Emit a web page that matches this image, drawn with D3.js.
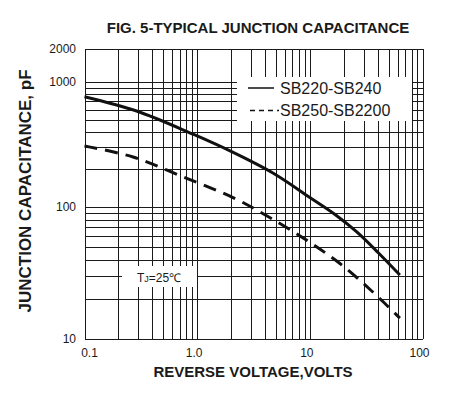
<!doctype html>
<html>
<head>
<meta charset="utf8">
<script src="https://d3js.org/d3.v7.min.js"></script>
<style>
  body { margin: 0; background: #fff; }
  text { font-family: "Liberation Sans", Arial, sans-serif; fill: #1a1a1a; }
  .grid line { stroke: #1a1a1a; stroke-width: 1; shape-rendering: crispEdges; }
</style>
</head>
<body>
<svg width="458" height="395"></svg>
<script>
// data: reverse voltage (V) vs capacitance (pF)
var seriesNames = ["SB220-SB240", "SB250-SB2200"];
var voltsA = [0.1, 0.29, 0.92, 2.02, 4.74, 10, 17.2, 26.1, 40.3, 63];
var capA   = [763, 586, 382, 277, 186, 119, 86.2, 64.7, 45.2, 30.5];
var voltsB = [0.1, 0.27, 0.75, 2.08, 4.25, 8.87, 18.5, 35.4, 63];
var capB   = [308, 251, 174, 119, 84.7, 57.7, 37.3, 23.1, 14.4];
var xTicks = [0.1, 1, 10, 100];
var xTickLabels = ["0.1", "1.0", "10", "100"];
var yTicks = [10, 100, 1000, 2000];

var svg = d3.select("svg");
var pLeft = 84.5, pRight = 422.5, pTop = 49, pBottom = 339;

var x = d3.scaleLog().domain([0.1, 100]).range([pLeft, pRight]);
// the printed grid is not quite uniform per decade, so map each decade separately
var y = d3.scaleLog().domain([10, 100, 1000, 2000]).range([pBottom, 207, 82, pTop]);

// grid
var xGrid = [], yGrid = [];
[0.1, 1, 10].forEach(function(d) {
    for (var k = 1; k <= 10; k++) xGrid.push(d * k);
});
[10, 100].forEach(function(d) {
    for (var k = 1; k <= 10; k++) yGrid.push(d * k);
});

var g = svg.append("g").attr("class", "grid");
g.selectAll(".vx").data(xGrid).enter().append("line")
    .attr("x1", function(d) { return Math.round(x(d)) + 0.5; })
    .attr("x2", function(d) { return Math.round(x(d)) + 0.5; })
    .attr("y1", pTop).attr("y2", pBottom);
g.selectAll(".hy").data(yGrid).enter().append("line")
    .attr("x1", pLeft).attr("x2", pRight)
    .attr("y1", function(d) { return Math.round(y(d)) + 0.5; })
    .attr("y2", function(d) { return Math.round(y(d)) + 0.5; });
g.append("line").attr("x1", pLeft).attr("x2", pRight).attr("y1", pTop + 0.5).attr("y2", pTop + 0.5);

// white boxes over the grid
svg.append("rect").attr("x", 237).attr("y", 77).attr("width", 175).attr("height", 44).attr("fill", "#fff");
svg.append("rect").attr("x", 122).attr("y", 266).attr("width", 75).attr("height", 21).attr("fill", "#fff");

// curves
var line = d3.line().curve(d3.curveCatmullRom.alpha(0.5))
    .x(function(d) { return x(d[0]); })
    .y(function(d) { return y(d[1]); });

svg.append("path")
    .datum(d3.zip(voltsA, capA))
    .attr("d", line)
    .attr("fill", "none").attr("stroke", "#111").attr("stroke-width", 3);

svg.append("path")
    .datum(d3.zip(voltsB, capB))
    .attr("d", line)
    .attr("fill", "none").attr("stroke", "#111").attr("stroke-width", 3)
    .attr("stroke-dasharray", "13,8");

// axes labels
svg.selectAll(".xt").data(xTicks).enter().append("text")
    .attr("x", function(d) { return x(d) + (d === 0.1 ? 5 : -3); })
    .attr("y", 357)
    .attr("text-anchor", "middle")
    .attr("font-size", "12px")
    .text(function(d, i) { return xTickLabels[i]; });

svg.selectAll(".yt").data(yTicks).enter().append("text")
    .attr("x", 76)
    .attr("y", function(d) { return y(d) + 4; })
    .attr("text-anchor", "end")
    .attr("font-size", "12px")
    .text(function(d) { return d; });

svg.append("text")
    .attr("x", 258).attr("y", 33)
    .attr("text-anchor", "middle")
    .attr("font-size", "15px").attr("font-weight", "bold")
    .text("FIG. 5-TYPICAL JUNCTION CAPACITANCE");

svg.append("text")
    .attr("x", 253).attr("y", 377)
    .attr("text-anchor", "middle")
    .attr("font-size", "15px").attr("font-weight", "bold")
    .text("REVERSE VOLTAGE,VOLTS");

svg.append("text")
    .attr("transform", "translate(31,191) rotate(-90)")
    .attr("text-anchor", "middle")
    .attr("font-size", "17px").attr("font-weight", "bold")
    .text("JUNCTION CAPACITANCE, pF");

// legend
svg.append("line").attr("x1", 248).attr("x2", 274).attr("y1", 88).attr("y2", 88)
    .attr("stroke", "#111").attr("stroke-width", 1.5);
svg.append("line").attr("x1", 250).attr("x2", 279).attr("y1", 110.5).attr("y2", 110.5)
    .attr("stroke", "#111").attr("stroke-width", 1.5).attr("stroke-dasharray", "5,4");
svg.append("text").attr("x", 280).attr("y", 94).attr("font-size", "16px").text(seriesNames[0]);
svg.append("text").attr("x", 280).attr("y", 116).attr("font-size", "16px").text(seriesNames[1]);

// junction temperature note
var tj = svg.append("text").attr("x", 137).attr("y", 282).attr("font-size", "12px");
tj.append("tspan").text("T");
tj.append("tspan").attr("font-size", "9px").text("J");
tj.append("tspan").text("=25℃");
</script>
</body>
</html>
